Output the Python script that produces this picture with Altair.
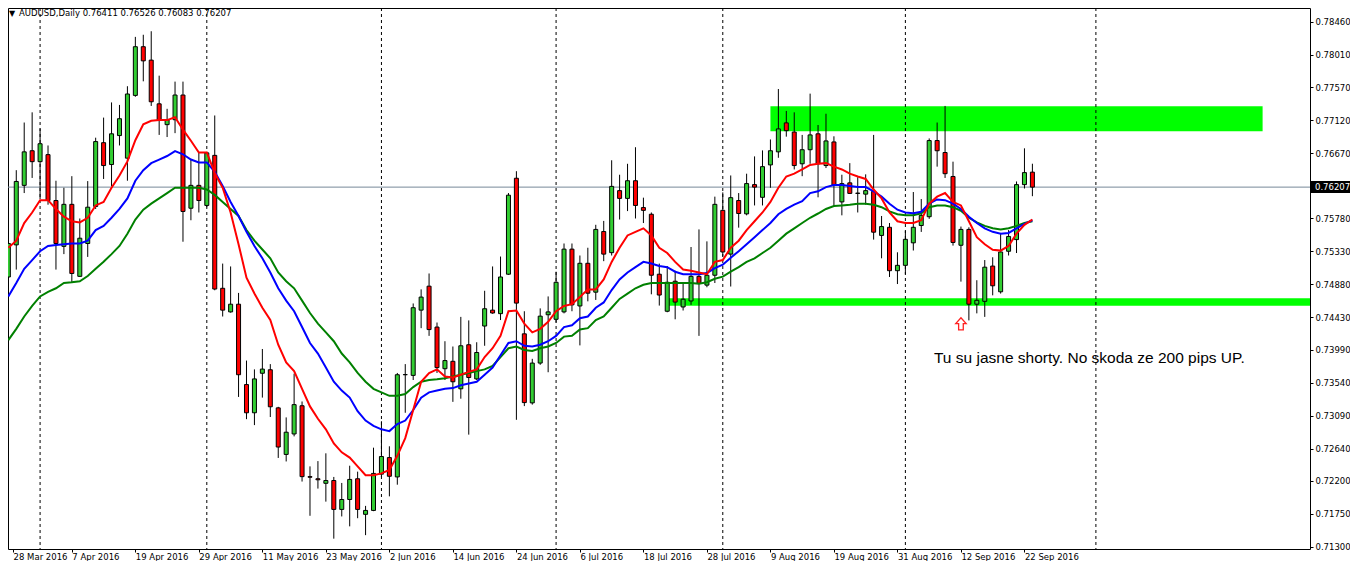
import altair as alt
import pandas as pd

# ---------------- data (AUDUSD daily) ----------------
opens = [0.74981, 0.75419, 0.76231, 0.76703, 0.76554, 0.76650, 0.76024, 0.75399, 0.75972, 0.74990,
         0.75438, 0.75943, 0.76813, 0.76515, 0.76910, 0.76602, 0.77458, 0.78122, 0.77939, 0.77343,
         0.77059, 0.77126, 0.77463, 0.75919, 0.76231, 0.75957, 0.76640, 0.74827, 0.74505, 0.74610,
         0.73514, 0.73129, 0.73668, 0.73716, 0.73196, 0.72561, 0.72840, 0.73225, 0.72258, 0.72229,
         0.72167, 0.72205, 0.71811, 0.71946, 0.72229, 0.71744, 0.71797, 0.72292, 0.72518, 0.72254,
         0.73648, 0.73639, 0.74529, 0.74856, 0.74298, 0.73730, 0.73831, 0.73456, 0.74057, 0.73591,
         0.74312, 0.74529, 0.74481, 0.75019, 0.76328, 0.74206, 0.73264, 0.73807, 0.74466, 0.74404,
         0.74505, 0.75361, 0.74586, 0.75168, 0.74774, 0.75601, 0.75313, 0.76159, 0.76053, 0.76294,
         0.75928, 0.75837, 0.75019, 0.74514, 0.74923, 0.74572, 0.74654, 0.74990, 0.74870, 0.75005,
         0.75890, 0.75293, 0.76024, 0.75842, 0.76241, 0.76068, 0.76510, 0.76688, 0.77083, 0.76958,
         0.76525, 0.76717, 0.76934, 0.76501, 0.76823, 0.76005, 0.76265, 0.76121, 0.76111, 0.76150,
         0.75548, 0.75659, 0.75067, 0.75140, 0.75447, 0.75683, 0.75803, 0.76842, 0.76679, 0.76352,
         0.75414, 0.75630, 0.74610, 0.74649, 0.75130, 0.74779, 0.75332, 0.75491, 0.76241, 0.76411]
highs = [0.75572, 0.76438, 0.77088, 0.77227, 0.77006, 0.76775, 0.76294, 0.76198, 0.76356, 0.75779,
         0.76289, 0.76881, 0.77155, 0.77362, 0.77328, 0.77583, 0.78256, 0.78285, 0.78333, 0.77727,
         0.77275, 0.77646, 0.77646, 0.76583, 0.76679, 0.76688, 0.77184, 0.75164, 0.75125, 0.74764,
         0.73841, 0.73721, 0.73999, 0.73793, 0.73210, 0.73066, 0.73663, 0.73283, 0.72398, 0.72470,
         0.72576, 0.72254, 0.72172, 0.72407, 0.72326, 0.71859, 0.72653, 0.73014, 0.72672, 0.73672,
         0.73793, 0.74620, 0.74812, 0.75029, 0.74360, 0.74105, 0.74033, 0.74437, 0.74389, 0.74091,
         0.74793, 0.75125, 0.75260, 0.76126, 0.76424, 0.74514, 0.73865, 0.74553, 0.74716, 0.75053,
         0.75438, 0.75438, 0.75274, 0.75380, 0.75693, 0.75746, 0.76573, 0.76376, 0.76525, 0.76751,
         0.76063, 0.75861, 0.75164, 0.75130, 0.75067, 0.74899, 0.75390, 0.75630, 0.75467, 0.76077,
         0.76135, 0.76366, 0.76126, 0.76390, 0.76626, 0.76708, 0.76857, 0.77545, 0.77246, 0.77227,
         0.76919, 0.77482, 0.77054, 0.77208, 0.76900, 0.76376, 0.76534, 0.76342, 0.76381, 0.76919,
         0.75813, 0.75717, 0.75318, 0.75611, 0.76140, 0.76044, 0.76871, 0.77088, 0.77314, 0.76554,
         0.75669, 0.75659, 0.74937, 0.75212, 0.75250, 0.75582, 0.75621, 0.76284, 0.76736, 0.76526]
lows = [0.74899, 0.75082, 0.76126, 0.76332, 0.76044, 0.75967, 0.75082, 0.75293, 0.74899, 0.74981,
        0.75255, 0.75909, 0.76318, 0.76222, 0.76775, 0.76294, 0.77439, 0.77650, 0.77314, 0.76919,
        0.76890, 0.76943, 0.75462, 0.75755, 0.75861, 0.75933, 0.74800, 0.74442, 0.74495, 0.73345,
        0.73042, 0.72961, 0.73336, 0.73071, 0.72513, 0.72465, 0.72807, 0.72191, 0.71724, 0.72095,
        0.71917, 0.71412, 0.71715, 0.71580, 0.71691, 0.71460, 0.71787, 0.72254, 0.71989, 0.72148,
        0.73129, 0.73576, 0.74283, 0.74178, 0.73672, 0.73576, 0.73278, 0.73321, 0.72831, 0.73576,
        0.74043, 0.74480, 0.74394, 0.75010, 0.73033, 0.73220, 0.73240, 0.73783, 0.73682, 0.74360,
        0.74485, 0.74514, 0.74048, 0.74649, 0.74668, 0.75197, 0.75274, 0.75765, 0.75880, 0.75779,
        0.75717, 0.74745, 0.74591, 0.74500, 0.74404, 0.74524, 0.74601, 0.74178, 0.74841, 0.74899,
        0.75260, 0.74851, 0.75654, 0.75822, 0.75957, 0.75957, 0.76198, 0.76607, 0.76895, 0.76448,
        0.76356, 0.76525, 0.76068, 0.76467, 0.75948, 0.75822, 0.76116, 0.75861, 0.75967, 0.75491,
        0.75236, 0.74981, 0.74885, 0.75019, 0.75342, 0.75596, 0.75774, 0.76486, 0.76332, 0.75409,
        0.74918, 0.74389, 0.74485, 0.74437, 0.74731, 0.74755, 0.75274, 0.75308, 0.76188, 0.76083]
closes = [0.75438, 0.76284, 0.76688, 0.76554, 0.76799, 0.76024, 0.75438, 0.75972, 0.75029, 0.75510,
          0.75933, 0.76828, 0.76501, 0.76934, 0.77140, 0.77477, 0.78122, 0.77929, 0.77371, 0.77116,
          0.77126, 0.77463, 0.75875, 0.76231, 0.76024, 0.76674, 0.74817, 0.74529, 0.74610, 0.73648,
          0.73129, 0.73591, 0.73725, 0.73211, 0.72662, 0.72864, 0.73240, 0.72258, 0.72250, 0.72215,
          0.72205, 0.71811, 0.71946, 0.72220, 0.71811, 0.71797, 0.72302, 0.72533, 0.72263, 0.73648,
          0.73650, 0.74562, 0.74707, 0.74264, 0.73745, 0.73841, 0.73552, 0.74043, 0.73610, 0.73951,
          0.74548, 0.74490, 0.74981, 0.76097, 0.74625, 0.73268, 0.73807, 0.74447, 0.74505, 0.74909,
          0.75361, 0.74601, 0.75168, 0.74760, 0.75630, 0.75293, 0.76217, 0.76053, 0.76294, 0.75957,
          0.75890, 0.75005, 0.74735, 0.74909, 0.74639, 0.74678, 0.74990, 0.74894, 0.75005, 0.75972,
          0.75322, 0.76063, 0.75847, 0.76255, 0.76207, 0.76486, 0.76703, 0.77001, 0.76977, 0.76501,
          0.76717, 0.76919, 0.76525, 0.76837, 0.76236, 0.76255, 0.76121, 0.76125, 0.76159, 0.75592,
          0.75669, 0.75067, 0.75140, 0.75495, 0.75659, 0.75822, 0.76842, 0.76703, 0.76390, 0.75452,
          0.75630, 0.74610, 0.74663, 0.75115, 0.74861, 0.75322, 0.75534, 0.76241, 0.76405, 0.76207]

ma_fast = [0.75380, 0.75476, 0.75717, 0.75861, 0.76029, 0.76029, 0.75909, 0.75803, 0.75741, 0.75726,
           0.75789, 0.75957, 0.76005, 0.76198, 0.76366, 0.76558, 0.76847, 0.77064, 0.77112, 0.77121,
           0.77121, 0.77160, 0.76990, 0.76840, 0.76679, 0.76679, 0.76400, 0.76198, 0.75861, 0.75428,
           0.74971, 0.74755, 0.74562, 0.74394, 0.74057, 0.73817, 0.73697, 0.73456, 0.73216, 0.73047,
           0.72903, 0.72711, 0.72590, 0.72518, 0.72398, 0.72278, 0.72278, 0.72302, 0.72350, 0.72542,
           0.72783, 0.73167, 0.73552, 0.73672, 0.73721, 0.73624, 0.73610, 0.73648, 0.73687, 0.73721,
           0.73889, 0.74009, 0.74178, 0.74514, 0.74524, 0.74346, 0.74226, 0.74274, 0.74370, 0.74514,
           0.74586, 0.74610, 0.74707, 0.74812, 0.74812, 0.74947, 0.75187, 0.75380, 0.75548, 0.75597,
           0.75645, 0.75548, 0.75380, 0.75308, 0.75187, 0.75082, 0.75067, 0.75043, 0.75019, 0.75187,
           0.75212, 0.75380, 0.75476, 0.75621, 0.75741, 0.75861, 0.76005, 0.76198, 0.76352, 0.76390,
           0.76448, 0.76510, 0.76525, 0.76534, 0.76486, 0.76448, 0.76390, 0.76352, 0.76318, 0.76174,
           0.76053, 0.75861, 0.75741, 0.75717, 0.75717, 0.75755, 0.75981, 0.76077, 0.76126, 0.76005,
           0.75957, 0.75741, 0.75524, 0.75428, 0.75351, 0.75341, 0.75404, 0.75572, 0.75693, 0.75765]
ma_mid = [0.74716, 0.74899, 0.75092, 0.75212, 0.75332, 0.75404, 0.75419, 0.75428, 0.75438, 0.75438,
          0.75476, 0.75621, 0.75678, 0.75789, 0.75909, 0.76053, 0.76294, 0.76438, 0.76534, 0.76583,
          0.76631, 0.76698, 0.76655, 0.76583, 0.76544, 0.76544, 0.76414, 0.76222, 0.76005, 0.75813,
          0.75597, 0.75404, 0.75236, 0.75043, 0.74827, 0.74659, 0.74514, 0.74298, 0.74081, 0.73937,
          0.73745, 0.73552, 0.73432, 0.73336, 0.73150, 0.73023, 0.72951, 0.72903, 0.72879, 0.72975,
          0.73023, 0.73167, 0.73336, 0.73408, 0.73432, 0.73456, 0.73466, 0.73504, 0.73528, 0.73552,
          0.73648, 0.73745, 0.73913, 0.74081, 0.74105, 0.74043, 0.74033, 0.74057, 0.74105, 0.74178,
          0.74298, 0.74322, 0.74418, 0.74442, 0.74562, 0.74634, 0.74803, 0.74947, 0.75043, 0.75115,
          0.75188, 0.75164, 0.75130, 0.75115, 0.75053, 0.75019, 0.75019, 0.75019, 0.75034, 0.75101,
          0.75149, 0.75245, 0.75332, 0.75428, 0.75524, 0.75621, 0.75717, 0.75837, 0.75909, 0.75967,
          0.76015, 0.76126, 0.76150, 0.76207, 0.76236, 0.76236, 0.76222, 0.76207, 0.76207, 0.76150,
          0.76077, 0.75981, 0.75899, 0.75861, 0.75851, 0.75871, 0.75981, 0.76039, 0.76029, 0.75981,
          0.75909, 0.75803, 0.75717, 0.75645, 0.75597, 0.75572, 0.75582, 0.75645, 0.75707, 0.75755]
ma_slow = [0.74120, 0.74274, 0.74442, 0.74586, 0.74716, 0.74779, 0.74827, 0.74899, 0.74909, 0.74923,
           0.74995, 0.75092, 0.75188, 0.75293, 0.75404, 0.75572, 0.75765, 0.75899, 0.75981, 0.76053,
           0.76126, 0.76198, 0.76198, 0.76198, 0.76198, 0.76174, 0.76101, 0.76005, 0.75909, 0.75813,
           0.75621, 0.75476, 0.75356, 0.75236, 0.75043, 0.74923, 0.74827, 0.74659, 0.74490, 0.74346,
           0.74226, 0.74105, 0.73937, 0.73817, 0.73672, 0.73552, 0.73456, 0.73408, 0.73360, 0.73360,
           0.73384, 0.73480, 0.73552, 0.73576, 0.73586, 0.73600, 0.73624, 0.73648, 0.73672, 0.73697,
           0.73721, 0.73769, 0.73889, 0.74009, 0.74033, 0.73985, 0.73971, 0.74009, 0.74033, 0.74081,
           0.74168, 0.74178, 0.74264, 0.74283, 0.74394, 0.74442, 0.74562, 0.74682, 0.74755, 0.74827,
           0.74875, 0.74899, 0.74899, 0.74899, 0.74899, 0.74899, 0.74899, 0.74889, 0.74909, 0.74957,
           0.74986, 0.75053, 0.75115, 0.75188, 0.75236, 0.75308, 0.75380, 0.75476, 0.75572, 0.75645,
           0.75717, 0.75789, 0.75847, 0.75909, 0.75948, 0.75957, 0.75967, 0.75981, 0.75981, 0.75967,
           0.75933, 0.75875, 0.75837, 0.75822, 0.75822, 0.75851, 0.75933, 0.75957, 0.75957, 0.75933,
           0.75885, 0.75789, 0.75726, 0.75678, 0.75645, 0.75630, 0.75645, 0.75678, 0.75717, 0.75741]

date_labels = ["28 Mar 2016", "7 Apr 2016", "19 Apr 2016", "29 Apr 2016", "11 May 2016",
               "23 May 2016", "2 Jun 2016", "14 Jun 2016", "24 Jun 2016", "6 Jul 2016",
               "18 Jul 2016", "28 Jul 2016", "9 Aug 2016", "19 Aug 2016", "31 Aug 2016",
               "12 Sep 2016", "22 Sep 2016"]
date_label_bars = [0.6, 8, 16, 24, 32, 40, 48, 56, 64, 72, 80, 88, 96, 104, 112, 120, 128]
separator_bars = [4, 25, 47, 69, 90, 113, 137]
price_ticks = [0.78460, 0.78010, 0.77570, 0.77120, 0.76670, 0.75780, 0.75330, 0.74880,
               0.74430, 0.73990, 0.73540, 0.73090, 0.72640, 0.72200, 0.71750, 0.71300]
last_price = 0.76207
header_text = "AUDUSD,Daily  0.76411 0.76526 0.76083 0.76207"

zone_left = [96, 83.2]
zone_right = [158, 170]
zone_top = [0.7731, 0.7469]
zone_bottom = [0.7697, 0.7459]

note_text = "Tu su jasne shorty. No skoda ze 200 pips UP."
note_bar = 116.6
note_price = 0.73812
arrow_bar = 120
arrow_price = 0.74342

# ---------------- chart ----------------
W, H = 1302, 541
PAD_R, PAD_B = 40, 12
FONT = "DejaVu Sans"
xs = alt.Scale(domain=[0.5875, 163.34], nice=False, zero=False)
ys = alt.Scale(domain=[0.71271, 0.78650], nice=False, zero=False)

label_js = "[" + ",".join("'%s'" % s for s in date_labels) + "]"
x_axis = alt.Axis(values=date_label_bars, labelExpr=label_js + "[round(datum.value / 8)]",
                  labelAlign="left", labelFont=FONT, labelFontSize=8.5, labelColor="black",
                  tickColor="black", tickSize=3, domain=False, grid=False, labelPadding=0,
                  labelFlush=False, labelOverlap=False, labelBound=False, title=None)
y_axis = alt.Axis(orient="right", values=price_ticks, format=".5f", labelFont=FONT,
                  labelFontSize=8.5, labelColor="black", tickColor="black", tickSize=3,
                  domain=False, grid=False, labelPadding=2, labelFlush=False,
                  labelOverlap=False, title=None)


def X(field):
    return alt.X(field, type="quantitative", scale=xs, axis=x_axis, title=None)


def Y(field):
    return alt.Y(field, type="quantitative", scale=ys, axis=y_axis, title=None)


n = len(opens)
bars = list(range(n))
candles = pd.DataFrame({"bar": bars, "open": opens, "high": highs, "low": lows, "close": closes})
candles["dir"] = ["up" if c >= o else "down" for o, c in zip(opens, closes)]
ma = pd.DataFrame({"bar": bars, "fast": ma_fast, "mid": ma_mid, "slow": ma_slow})
zones = pd.DataFrame({"bar": zone_left, "bar2": zone_right, "top": zone_top, "bottom": zone_bottom})
seps = pd.DataFrame({"bar": separator_bars})
pline = pd.DataFrame({"price": [last_price], "hi": [last_price + 0.00082],
                      "lo": [last_price - 0.00082], "label": ["%.5f" % last_price]})

zone_layer = alt.Chart(zones).mark_rect(color="#00FF00", clip=True).encode(
    x=X("bar"), x2="bar2", y=Y("top"), y2="bottom")
sep_layer = alt.Chart(seps).mark_rule(color="black", strokeWidth=1, strokeDash=[3, 3]).encode(
    x=X("bar"))
price_layer = alt.Chart(pline).mark_rule(color="#778899", strokeWidth=1).encode(y=Y("price"))
wick_layer = alt.Chart(candles).mark_rule(color="black", strokeWidth=1, clip=True).encode(
    x=X("bar"), y=Y("low"), y2="high")
body_layer = alt.Chart(candles).mark_bar(size=4, stroke="black", strokeWidth=1, clip=True).encode(
    x=X("bar"), y=Y("open"), y2="close",
    color=alt.Color("dir:N", scale=alt.Scale(domain=["up", "down"], range=["#32CD32", "#FF0000"]),
                    legend=None))
slow_layer = alt.Chart(ma).mark_line(color="#008000", strokeWidth=2, clip=True).encode(
    x=X("bar"), y=Y("slow"))
mid_layer = alt.Chart(ma).mark_line(color="#0000FF", strokeWidth=2, clip=True).encode(
    x=X("bar"), y=Y("mid"))
fast_layer = alt.Chart(ma).mark_line(color="#FF0000", strokeWidth=2, clip=True).encode(
    x=X("bar"), y=Y("fast"))

plabel_box = alt.Chart(pline).mark_rect(color="black").encode(
    x=alt.value(W + 1), x2=alt.value(W + PAD_R), y=Y("hi"), y2="lo")
plabel_txt = alt.Chart(pline).mark_text(align="left", baseline="middle", color="white",
                                        font=FONT, fontSize=8.5).encode(
    x=alt.value(W + 5), y=Y("price"), text="label:N")

head = pd.DataFrame({"t": [header_text], "tri": ["▼"]})
head_tri = alt.Chart(head).mark_text(align="center", baseline="top", font=FONT, fontSize=8,
                                     color="black").encode(x=alt.value(4), y=alt.value(2), text="tri:N")
head_txt = alt.Chart(head).mark_text(align="left", baseline="top", font=FONT, fontSize=8.5,
                                     color="black").encode(x=alt.value(11), y=alt.value(1), text="t:N")

note = pd.DataFrame({"bar": [note_bar], "price": [note_price], "t": [note_text]})
note_layer = alt.Chart(note).mark_text(align="left", baseline="alphabetic", font="Liberation Sans",
                                       fontSize=15.5, color="black").encode(
    x=X("bar"), y=Y("price"), text="t:N")

arrow = pd.DataFrame({"bar": [arrow_bar], "price": [arrow_price]})
arrow_path = "M0,-1 L0.85,-0.05 L0.38,-0.05 L0.38,1 L-0.38,1 L-0.38,-0.05 L-0.85,-0.05 Z"
arrow_layer = alt.Chart(arrow).mark_point(shape=arrow_path, filled=False, stroke="#FF2020",
                                          strokeWidth=1.3, size=150, opacity=1).encode(
    x=X("bar"), y=Y("price"))

chart = alt.layer(
    zone_layer, sep_layer, price_layer, wick_layer, body_layer,
    slow_layer, mid_layer, fast_layer, plabel_box, plabel_txt,
    head_tri, head_txt, note_layer, arrow_layer
).properties(
    width=W, height=H,
    padding={"left": 0, "top": 0, "right": PAD_R, "bottom": PAD_B},
    autosize=alt.AutoSizeParams(type="none"),
    background="white",
).configure_view(stroke="black", strokeWidth=1)

chart.save("out.html", embed_options={"renderer": "svg", "actions": False})
